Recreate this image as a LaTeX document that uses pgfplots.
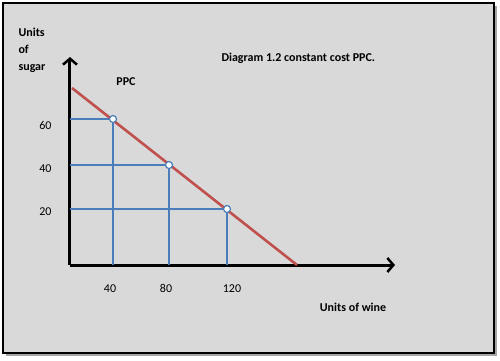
\documentclass[border=0pt]{standalone}
\usepackage{pgfplots}
\pgfplotsset{compat=1.18}
\usepackage{fontspec}
\setmainfont{Carlito}
\usetikzlibrary{arrows.meta}
\definecolor{bg}{HTML}{D9D9D9}
\definecolor{pblue}{HTML}{4A7EBB}
\definecolor{pred}{HTML}{C0504D}
\begin{document}
\begin{tikzpicture}
\path (-70pt,-95pt) rectangle (430pt,265pt);
\fill[gray!70] (-64pt,-91pt) rectangle (427pt,259pt);
\draw[fill=bg, line width=2pt] (-67pt,-88pt) rectangle (424pt,262pt);
\begin{axis}[
  anchor=origin, at={(0pt,0pt)},
  x=1pt, y=1pt,
  xmin=0, xmax=325, ymin=0, ymax=208,
  axis lines=left,
  axis line style={line width=3pt, black, -{Straight Barb[length=6pt,width=14pt,line width=2.5pt]}},
  clip=false,
  xtick={40,96,162}, xticklabels={40,80,120},
  ytick={53,96,140}, yticklabels={20,40,60},
  major tick length=0pt,
  tick label style={font=\fontsize{12}{14}\selectfont},
  /pgf/number format/assume math mode=true,
  xticklabel style={yshift=-16pt},
  yticklabel style={xshift=-15pt},
]
\addplot[pblue, line width=1.3pt] coordinates {(0,146) (43,146) (43,0)};
\addplot[pblue, line width=1.3pt] coordinates {(0,100) (99,100) (99,0)};
\addplot[pblue, line width=1.3pt] coordinates {(0,56) (157,56) (157,0)};
\addplot[pred, line width=2.6pt] coordinates {(2,177) (227,0)};
\addplot[only marks, mark=*, mark size=3.5pt, mark options={fill=white, draw=pblue, line width=1.2pt}] coordinates {(43,146) (99,100) (157,56)};
\node[anchor=west, align=left, font=\bfseries\fontsize{12}{17}\selectfont] at (axis cs:-55,215) {Units\\of\\sugar};
\node[font=\bfseries\fontsize{12}{14}\selectfont] at (axis cs:56,183) {PPC};
\node[anchor=west, font=\bfseries\fontsize{12}{14}\selectfont] at (axis cs:148,207) {Diagram 1.2 constant cost PPC.};
\node[font=\bfseries\fontsize{12}{14}\selectfont] at (axis cs:283,-42) {Units of wine};
\end{axis}
\end{tikzpicture}
\end{document}
